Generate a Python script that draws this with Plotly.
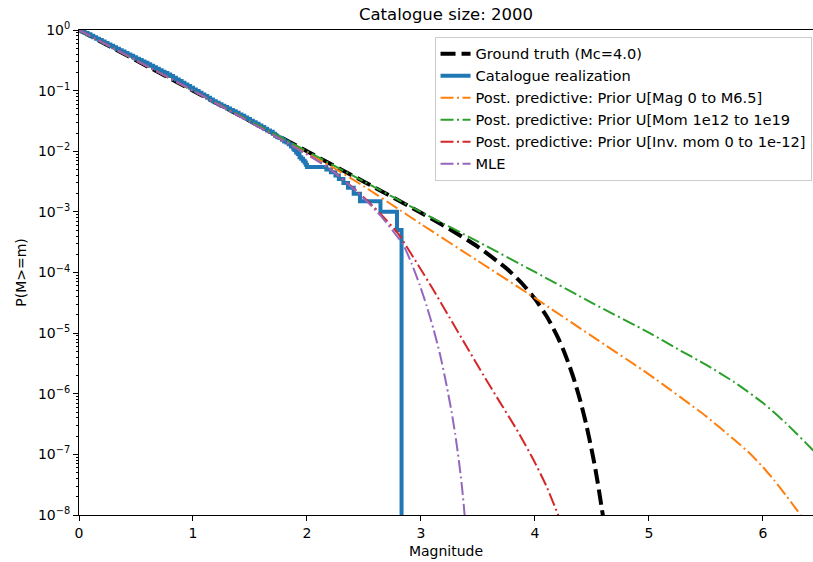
import numpy as np
import plotly.graph_objects as go

catalogue_size = 2000

# Ground truth: tapered Gutenberg-Richter survival curve (corner Mc = 4.0)
gt_mag = [0, 0.5, 1.0, 1.5, 2.0, 2.5, 3.0, 3.25, 3.5, 3.75, 3.9, 4.0, 4.1, 4.15,
          4.2, 4.25, 4.3, 4.35, 4.4, 4.45, 4.5, 4.525, 4.55, 4.6]
gt_p = [1.0, 3.16e-1, 1.0e-1, 3.16e-2, 9.99e-3, 3.15e-3, 9.69e-4, 5.22e-4, 2.65e-4,
        1.17e-4, 6.21e-5, 3.68e-5, 1.94e-5, 1.32e-5, 8.59e-6, 5.26e-6, 2.99e-6,
        1.57e-6, 7.45e-7, 3.13e-7, 1.14e-7, 6.53e-8, 3.53e-8, 8.9e-9]

# Catalogue realization: magnitude thresholds and number of events >= threshold
cat_mag = [0.000, 0.025, 0.050, 0.075, 0.100, 0.125, 0.150, 0.175, 0.200, 0.225,
           0.250, 0.275, 0.300, 0.325, 0.350, 0.375, 0.400, 0.425, 0.450, 0.475,
           0.500, 0.525, 0.550, 0.575, 0.600, 0.625, 0.650, 0.675, 0.700, 0.725,
           0.750, 0.775, 0.800, 0.825, 0.850, 0.875, 0.900, 0.925, 0.950, 0.975,
           1.000, 1.025, 1.050, 1.075, 1.100, 1.125, 1.150, 1.175, 1.200, 1.225,
           1.250, 1.275, 1.300, 1.325, 1.350, 1.375, 1.400, 1.425, 1.450, 1.475,
           1.500, 1.525, 1.550, 1.575, 1.600, 1.625, 1.650, 1.675, 1.700, 1.720,
           1.740, 1.760, 1.780, 1.800, 1.820, 1.840, 1.860, 1.880, 1.890, 1.905,
           1.920, 1.935, 1.950, 1.965, 1.980, 1.990, 2.000, 2.170, 2.210, 2.250,
           2.280, 2.320, 2.360, 2.410, 2.465, 2.645, 2.790, 2.830]
cat_count = [2000, 1894, 1793, 1697, 1607, 1521, 1440, 1364, 1291, 1222,
             1157, 1096, 1038, 982, 930, 880, 834, 790, 750, 710,
             674, 638, 606, 574, 545, 515, 487, 460, 435, 411,
             389, 368, 348, 326, 306, 287, 270, 253, 238, 223,
             209, 197, 185, 173, 163, 153, 143, 134, 126, 119,
             113, 107, 101, 96, 91, 86, 81, 77, 72, 68,
             64, 60, 57, 53, 50, 47, 44, 42, 39, 36,
             34, 33, 31, 29, 28, 26, 24, 22, 21, 19,
             18, 16, 15, 14, 13, 12, 11, 10, 9, 8,
             7, 6, 5, 4, 3, 2, 1, 0]

# Posterior predictive, prior uniform in magnitude (0 to M6.5)
mag_prior_mag = [0, 0.5, 1.0, 1.5, 2.0, 2.25, 2.5, 2.816, 3.0, 3.5, 4.0, 4.5, 5.0,
                 5.5, 5.75, 5.9, 6.0, 6.1, 6.2, 6.3, 6.37]
mag_prior_p = [1.0, 3.16e-1, 1.0e-1, 3.13e-2, 9.55e-3, 5.13e-3, 2.63e-3, 1.07e-3,
               6.31e-4, 1.55e-4, 3.80e-5, 8.91e-6, 2.09e-6, 4.27e-7, 1.74e-7,
               9.77e-8, 6.17e-8, 3.72e-8, 2.14e-8, 1.20e-8, 7.94e-9]

# Posterior predictive, prior uniform in moment (1e12 to 1e19)
mom_prior_mag = [0, 0.5, 1.0, 1.5, 2.0, 2.5, 3.0, 3.5, 4.0, 4.5, 5.0, 5.25, 5.5,
                 5.75, 6.0, 6.2, 6.44, 6.5]
mom_prior_p = [1.0, 3.16e-1, 1.0e-1, 3.16e-2, 1.0e-2, 3.16e-3, 1.0e-3, 3.24e-4,
               1.02e-4, 3.16e-5, 1.02e-5, 5.5e-6, 3.02e-6, 1.55e-6, 7.08e-7,
               3.31e-7, 1.17e-7, 8.91e-8]

# Posterior predictive, prior uniform in inverse moment (0 to 1e-12)
inv_prior_mag = [0, 0.5, 1.0, 1.5, 2.0, 2.2, 2.44, 2.64, 2.8, 2.96, 3.11, 3.25,
                 3.40, 3.55, 3.69, 3.84, 3.985, 4.10, 4.2, 4.25]
inv_prior_p = [1.0, 3.16e-1, 1.0e-1, 3.02e-2, 8.91e-3, 5.13e-3, 2.19e-3, 9.55e-4,
               4.37e-4, 1.48e-4, 5.13e-5, 1.82e-5, 6.03e-6, 2.0e-6, 7.41e-7,
               2.57e-7, 8.32e-8, 3.02e-8, 1.05e-8, 6.03e-9]

# Maximum likelihood estimate
mle_mag = [0, 0.5, 1.0, 1.5, 2.0, 2.2, 2.44, 2.64, 2.79, 2.85, 2.92, 2.99, 3.05,
           3.11, 3.17, 3.225, 3.27, 3.30, 3.33, 3.357, 3.375, 3.39]
mle_p = [1.0, 3.16e-1, 1.0e-1, 3.02e-2, 8.91e-3, 5.13e-3, 2.14e-3, 8.91e-4,
         3.98e-4, 2.75e-4, 1.38e-4, 6.17e-5, 2.82e-5, 1.17e-5, 4.27e-6, 1.38e-6,
         4.90e-7, 2.19e-7, 8.71e-8, 3.31e-8, 1.51e-8, 7.08e-9]

x_ticks = [0, 1, 2, 3, 4, 5, 6]
y_tick_exponents = [0, -1, -2, -3, -4, -5, -6, -7, -8]
y_tick_labels = ["10<sup>0</sup>"] + [f"10<sup>\u2212{-e}</sup>" for e in y_tick_exponents[1:]]

FONT = "DejaVu Sans"

# empirical survival; the last (empty) step is sent below the axis floor
cat_p = np.array(cat_count, dtype=float) / catalogue_size
cat_p = np.where(cat_p > 0, cat_p, 1e-12)

dashdot = "13px,3.5px,2px,3.5px"


def smooth_line(color, width=2, dash=dashdot):
    return dict(color=color, width=width, dash=dash, shape="spline", smoothing=0.6)


fig = go.Figure()
fig.add_trace(go.Scatter(x=gt_mag, y=gt_p, mode="lines", name="Ground truth (Mc=4.0)",
                         line=smooth_line("black", width=4, dash="15px,6px")))
fig.add_trace(go.Scatter(x=cat_mag, y=cat_p, mode="lines", name="Catalogue realization",
                         line=dict(color="#1f77b4", width=4, shape="hv")))
fig.add_trace(go.Scatter(x=mag_prior_mag, y=mag_prior_p, mode="lines",
                         name="Post. predictive: Prior U[Mag 0 to M6.5]",
                         line=smooth_line("#ff7f0e")))
fig.add_trace(go.Scatter(x=mom_prior_mag, y=mom_prior_p, mode="lines",
                         name="Post. predictive: Prior U[Mom 1e12 to 1e19",
                         line=smooth_line("#2ca02c")))
fig.add_trace(go.Scatter(x=inv_prior_mag, y=inv_prior_p, mode="lines",
                         name="Post. predictive: Prior U[Inv. mom 0 to 1e-12]",
                         line=smooth_line("#d62728")))
fig.add_trace(go.Scatter(x=mle_mag, y=mle_p, mode="lines", name="MLE",
                         line=smooth_line("#9467bd")))

fig.update_layout(
    width=813, height=562,
    margin=dict(l=79, r=0, t=30, b=47),
    paper_bgcolor="white", plot_bgcolor="white",
    font=dict(family=FONT, size=14, color="black"),
    title=dict(text=f"Catalogue size: {catalogue_size}", x=0.5, xref="paper",
               xanchor="center", y=1 - 14 / 562, yanchor="middle",
               font=dict(family=FONT, size=16.5, color="black")),
    showlegend=True,
    legend=dict(x=0.998, y=0.986, xanchor="right", yanchor="top",
                bgcolor="rgba(255,255,255,0.8)", bordercolor="#cccccc", borderwidth=1,
                font=dict(family=FONT, size=14.6, color="black"),
                tracegroupgap=0),
)
fig.update_xaxes(
    range=[0, 6.44], tickvals=x_ticks, ticks="outside", ticklen=5, tickwidth=1,
    tickcolor="black", showline=True, linecolor="black", linewidth=1, mirror=True,
    showgrid=False, zeroline=False, automargin=False,
    title=dict(text="Magnitude", standoff=6, font=dict(family=FONT, size=14)),
)
fig.update_yaxes(
    type="log", range=[-8, 0],
    tickvals=[10.0 ** e for e in y_tick_exponents], ticktext=y_tick_labels,
    ticks="outside", ticklen=5, tickwidth=1, tickcolor="black",
    minor=dict(ticks="outside", ticklen=2.5, tickwidth=0.8, tickcolor="black", dtick="D1"),
    showline=True, linecolor="black", linewidth=1, mirror=False,
    showgrid=False, zeroline=False, automargin=False,
    title=dict(text="P(M>=m)", standoff=8, font=dict(family=FONT, size=14)),
)

fig.write_html("out.html")
